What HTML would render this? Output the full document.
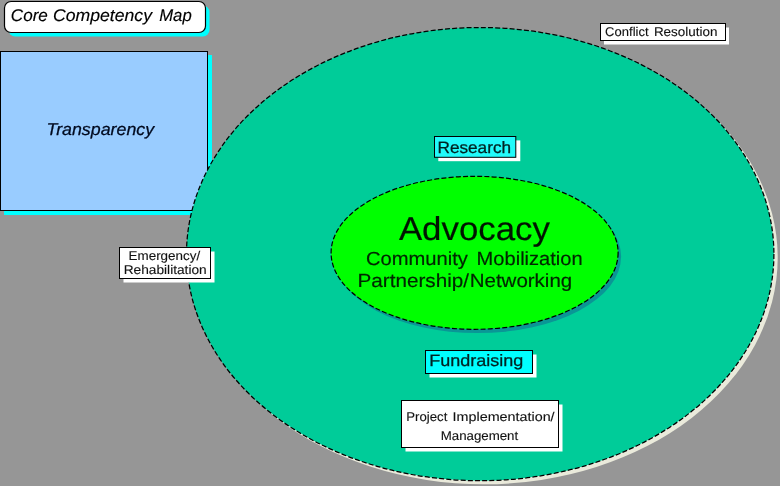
<!DOCTYPE html>
<html><head><meta charset="utf-8">
<style>
html,body{margin:0;padding:0;background:#969696;overflow:hidden;}
svg{display:block;will-change:transform;text-rendering:geometricPrecision;font-family:"Liberation Sans",sans-serif;}
</style></head>
<body>
<svg width="780" height="486" viewBox="0 0 780 486">
<rect x="0" y="0" width="780" height="486" fill="#969696"/>
<!-- title box -->
<rect x="8.5" y="5.5" width="201" height="31" rx="6.5" fill="#00ffff"/>
<rect x="4.5" y="1.5" width="201" height="31" rx="6.5" fill="#ffffff" stroke="#000" stroke-width="1.2"/>
<!-- transparency box -->
<rect x="4" y="55" width="208" height="160" fill="#00ffff"/>
<rect x="0.5" y="51.5" width="207" height="159" fill="#99ccff" stroke="#000" stroke-width="1"/>
<!-- outer ellipse -->
<ellipse cx="484" cy="257.7" rx="293.7" ry="226.6" fill="#eaeadb"/>
<ellipse cx="480.2" cy="254.1" rx="293.7" ry="226.6" fill="#00cc99" stroke="#000" stroke-width="1.25" stroke-dasharray="5 2.2"/>
<!-- inner ellipse -->
<ellipse cx="477.6" cy="256.6" rx="143.5" ry="76.5" fill="#0a9696"/>
<ellipse cx="474.6" cy="252.8" rx="143.5" ry="76.5" fill="#00ff00" stroke="#000" stroke-width="1.2" stroke-dasharray="5 2.2"/>
<!-- research -->
<rect x="438.3" y="140.4" width="82" height="20.8" fill="#fff"/>
<rect x="434.5" y="136.5" width="81.3" height="20.8" fill="#22fafa" stroke="#000"/>
<!-- fundraising -->
<rect x="429.5" y="354.5" width="107" height="23" fill="#fff"/>
<rect x="425.5" y="350.5" width="107" height="23" fill="#00ffff" stroke="#000"/>
<!-- project -->
<rect x="405.5" y="404.5" width="157" height="47" fill="#fff"/>
<rect x="401.5" y="400.5" width="157" height="47" fill="#fff" stroke="#000"/>
<!-- conflict -->
<rect x="604" y="27.5" width="125" height="17" fill="#fff"/>
<rect x="600.5" y="23.5" width="125" height="17" fill="#fff" stroke="#000"/>
<!-- emergency -->
<rect x="123.5" y="251.5" width="91" height="31" fill="#fff"/>
<rect x="119.5" y="247.5" width="91" height="31" fill="#fff" stroke="#000"/>
<text x="10.80" y="20.5" font-size="17" font-style="italic" fill="#000" stroke="#000" stroke-width="0.15" textLength="37.08" lengthAdjust="spacingAndGlyphs">Core</text>
<text x="53.00" y="20.5" font-size="17" font-style="italic" fill="#000" stroke="#000" stroke-width="0.15" textLength="99.00" lengthAdjust="spacingAndGlyphs">Competency</text>
<text x="159.20" y="20.5" font-size="17" font-style="italic" fill="#000" stroke="#000" stroke-width="0.15" textLength="32.53" lengthAdjust="spacingAndGlyphs">Map</text>
<text x="46.60" y="135.4" font-size="17" font-style="italic" fill="#000a1f" stroke="#000a1f" stroke-width="0.25" textLength="107.50" lengthAdjust="spacingAndGlyphs">Transparency</text>
<text x="398.90" y="240.3" font-size="33" fill="#001400" stroke="#001400" stroke-width="0.2" textLength="151.01" lengthAdjust="spacingAndGlyphs">Advocacy</text>
<text x="365.90" y="265.4" font-size="19" fill="#002600" stroke="#002600" stroke-width="0.2" textLength="102.01" lengthAdjust="spacingAndGlyphs">Community</text>
<text x="476.60" y="265.4" font-size="19" fill="#002600" stroke="#002600" stroke-width="0.2" textLength="106.07" lengthAdjust="spacingAndGlyphs">Mobilization</text>
<text x="357.50" y="286.8" font-size="19" fill="#002600" stroke="#002600" stroke-width="0.2" textLength="111.54" lengthAdjust="spacingAndGlyphs">Partnership/</text>
<text x="469.70" y="286.8" font-size="19" fill="#002600" stroke="#002600" stroke-width="0.2" textLength="102.55" lengthAdjust="spacingAndGlyphs">Networking</text>
<text x="437.50" y="152.8" font-size="16.5" fill="#002222" stroke="#002222" stroke-width="0.3" textLength="73.55" lengthAdjust="spacingAndGlyphs">Research</text>
<text x="429.30" y="365.9" font-size="16.5" fill="#002222" stroke="#002222" stroke-width="0.3" textLength="94.09" lengthAdjust="spacingAndGlyphs">Fundraising</text>
<text x="406.30" y="421.2" font-size="12.7" fill="#111" stroke="#111" stroke-width="0.12" textLength="41.02" lengthAdjust="spacingAndGlyphs">Project</text>
<text x="452.60" y="421.2" font-size="12.7" fill="#111" stroke="#111" stroke-width="0.12" textLength="102.03" lengthAdjust="spacingAndGlyphs">Implementation/</text>
<text x="440.70" y="440.3" font-size="12.7" fill="#111" stroke="#111" stroke-width="0.12" textLength="77.51" lengthAdjust="spacingAndGlyphs">Management</text>
<text x="605.10" y="36" font-size="12.7" fill="#111" stroke="#111" stroke-width="0.12" textLength="43.51" lengthAdjust="spacingAndGlyphs">Conflict</text>
<text x="653.90" y="36" font-size="12.7" fill="#111" stroke="#111" stroke-width="0.12" textLength="63.56" lengthAdjust="spacingAndGlyphs">Resolution</text>
<text x="128.60" y="260" font-size="12.7" fill="#111" stroke="#111" stroke-width="0.12" textLength="71.53" lengthAdjust="spacingAndGlyphs">Emergency/</text>
<text x="123.70" y="274.2" font-size="12.7" fill="#111" stroke="#111" stroke-width="0.12" textLength="83.02" lengthAdjust="spacingAndGlyphs">Rehabilitation</text>
</svg>
</body></html>
